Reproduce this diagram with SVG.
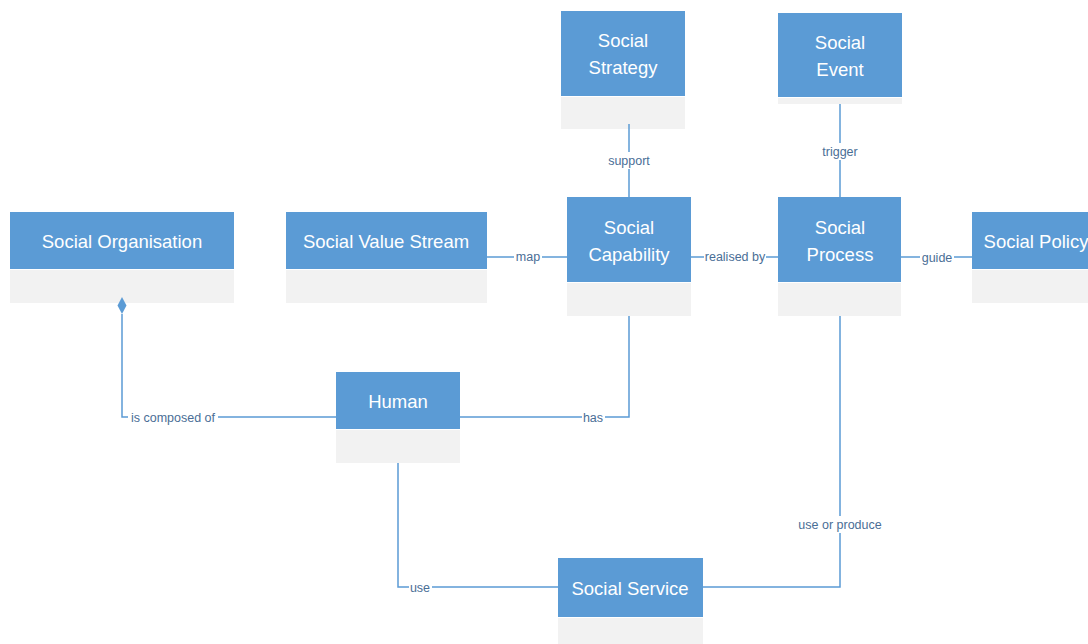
<svg xmlns="http://www.w3.org/2000/svg" width="1088" height="644" viewBox="0 0 1088 644">
  <style>
    .head { fill: #5B9BD5; }
    .body { fill: #F2F2F2; }
    .title { font-family: "Liberation Sans", Arial, sans-serif; font-size: 18.5px; fill: #FFFFFF; text-anchor: middle; }
    .conn { fill: none; stroke: #5B9BD5; stroke-width: 1.5; }
    .lbl-bg { fill: #FFFFFF; }
    .lbl { font-family: "Liberation Sans", Arial, sans-serif; font-size: 12.5px; fill: #4A6E96; text-anchor: middle; }
  </style>
  <rect width="1088" height="644" fill="#FFFFFF"/>

  <!-- nodes -->
  <g id="social-strategy">
    <rect class="head" x="561" y="11" width="124" height="85"/>
    <rect class="body" x="561" y="97" width="124" height="32"/>
    <text class="title" x="623" y="47">Social</text>
    <text class="title" x="623" y="74">Strategy</text>
  </g>

  <g id="social-event">
    <rect class="head" x="778" y="13" width="124" height="84"/>
    <rect class="body" x="778" y="98" width="124" height="6"/>
    <text class="title" x="840" y="49">Social</text>
    <text class="title" x="840" y="76">Event</text>
  </g>

  <g id="social-organisation">
    <rect class="head" x="10" y="212" width="224" height="57"/>
    <rect class="body" x="10" y="270" width="224" height="33"/>
    <text class="title" x="122" y="248">Social Organisation</text>
  </g>

  <g id="social-value-stream">
    <rect class="head" x="286" y="212" width="201" height="57"/>
    <rect class="body" x="286" y="270" width="201" height="33"/>
    <text class="title" x="386" y="248">Social Value Stream</text>
  </g>

  <g id="social-capability">
    <rect class="head" x="567" y="197" width="124" height="85"/>
    <rect class="body" x="567" y="283" width="124" height="33"/>
    <text class="title" x="629" y="234">Social</text>
    <text class="title" x="629" y="261">Capability</text>
  </g>

  <g id="social-process">
    <rect class="head" x="778" y="197" width="123" height="85"/>
    <rect class="body" x="778" y="283" width="123" height="33"/>
    <text class="title" x="840" y="234">Social</text>
    <text class="title" x="840" y="261">Process</text>
  </g>

  <g id="social-policy">
    <rect class="head" x="972" y="212" width="130" height="57"/>
    <rect class="body" x="972" y="270" width="130" height="33"/>
    <text class="title" x="1036" y="248">Social Policy</text>
  </g>

  <g id="human">
    <rect class="head" x="336" y="372" width="124" height="57"/>
    <rect class="body" x="336" y="430" width="124" height="33"/>
    <text class="title" x="398" y="408">Human</text>
  </g>

  <g id="social-service">
    <rect class="head" x="558" y="558" width="145" height="59"/>
    <rect class="body" x="558" y="618" width="145" height="30"/>
    <text class="title" x="630" y="595">Social Service</text>
  </g>

  <!-- connectors -->
  <g id="connectors">
    <!-- Social Strategy support Social Capability -->
    <path class="conn" d="M629,124 V197"/>
    <rect class="lbl-bg" x="604" y="152" width="50" height="17"/>
    <text class="lbl" x="629" y="165">support</text>

    <!-- Social Event trigger Social Process -->
    <path class="conn" d="M840,104 V197"/>
    <rect class="lbl-bg" x="818" y="143" width="44" height="17"/>
    <text class="lbl" x="840" y="156">trigger</text>

    <!-- Social Value Stream map Social Capability -->
    <path class="conn" d="M487,257 H567"/>
    <rect class="lbl-bg" x="514" y="250" width="28" height="15"/>
    <text class="lbl" x="528" y="261">map</text>

    <!-- Social Capability realised by Social Process -->
    <path class="conn" d="M691,257 H778"/>
    <rect class="lbl-bg" x="704" y="250" width="62" height="15"/>
    <text class="lbl" x="735" y="261">realised by</text>

    <!-- Social Process guide Social Policy -->
    <path class="conn" d="M901,257 H972"/>
    <rect class="lbl-bg" x="920" y="250" width="34" height="15"/>
    <text class="lbl" x="937" y="262">guide</text>

    <!-- Social Organisation is composed of Human (composition) -->
    <path class="conn" d="M122,314 V417 H336"/>
    <path d="M122,297 L126.5,305.5 L122,314 L117.5,305.5 Z" fill="#5B9BD5"/>
    <rect class="lbl-bg" x="128" y="410" width="90" height="15"/>
    <text class="lbl" x="173" y="422">is composed of</text>

    <!-- Human has Social Capability -->
    <path class="conn" d="M460,417 H629 V316"/>
    <rect class="lbl-bg" x="582" y="410" width="23" height="15"/>
    <text class="lbl" x="593" y="422">has</text>

    <!-- Human use Social Service -->
    <path class="conn" d="M398,463 V587 H558"/>
    <rect class="lbl-bg" x="409" y="580" width="23" height="15"/>
    <text class="lbl" x="420" y="592">use</text>

    <!-- Social Process use or produce Social Service -->
    <path class="conn" d="M840,316 V587 H703"/>
    <rect class="lbl-bg" x="795" y="516" width="90" height="17"/>
    <text class="lbl" x="840" y="529">use or produce</text>
  </g>
</svg>
